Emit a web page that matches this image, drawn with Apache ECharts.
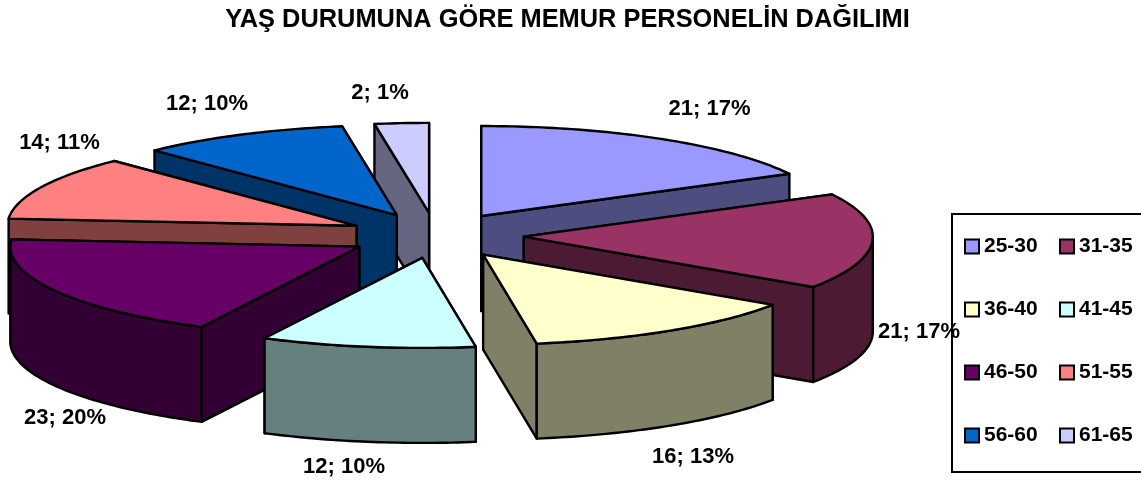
<!DOCTYPE html>
<html>
<head>
<meta charset="utf-8">
<style>
html, body { margin: 0; padding: 0; background: #fff; }
#chart { width: 1141px; height: 481px; }
</style>
<script src="https://cdn.jsdelivr.net/npm/echarts@6/dist/echarts.min.js"></script>
</head>
<body>
<div id="chart"></div>
<script>
// chart data
var categories = ["25-30", "31-35", "36-40", "41-45", "46-50", "51-55", "56-60", "61-65"];
var counts = [21, 21, 16, 12, 23, 14, 12, 2];
var percents = [17, 17, 13, 10, 20, 11, 10, 1];
// slice sizes (labels are rounded, the drawn slices are not)
var shares = [17.2, 17.2, 13.1, 9.9, 18.8, 11.5, 9.7, 2.5];
var colors = ["#9999FF", "#993366", "#FFFFCC", "#CCFFFF", "#660066", "#FF8080", "#0066CC", "#CCCCFF"];
var titleText = "YAŞ DURUMUNA GÖRE MEMUR PERSONELİN DAĞILIMI";

// pie projection
var CX = 436, CY = 235.5, RX = 349, RY = 90, DEPTH = 95, EXPLODE = 0.252;
var labelCenters = [[709.5, 109], [919, 332], [693, 457], [344, 467], [65, 418], [59.5, 143], [207, 104], [380, 93]];
var FONT = "Liberation Sans";
var EDGE = 2.4;

var total = shares.reduce(function (a, b) { return a + b; }, 0);
var slices = [];
var acc = 0;
for (var i = 0; i < shares.length; i++) {
    var a0 = acc / total * 360;
    acc += shares[i];
    var a1 = acc / total * 360;
    var mid = (a0 + a1) / 2 * Math.PI / 180;
    slices.push({
        a0: a0, a1: a1,
        x: CX + EXPLODE * RX * Math.sin(mid),
        y: CY - EXPLODE * RY * Math.cos(mid)
    });
}

function rimPoint(s, deg, drop) {
    var r = deg * Math.PI / 180;
    return [s.x + RX * Math.sin(r), s.y - RY * Math.cos(r) + drop];
}

function arcPoints(s, from, to, drop) {
    var pts = [];
    var steps = Math.max(2, Math.ceil(Math.abs(to - from)));
    for (var k = 0; k <= steps; k++) {
        pts.push(rimPoint(s, from + (to - from) * k / steps, drop));
    }
    return pts;
}

function face(points, fill) {
    return {
        type: "polygon",
        shape: { points: points },
        style: { fill: fill, stroke: "#000", lineWidth: EDGE, lineJoin: "round" }
    };
}

function cutFace(s, deg, fill) {
    return face([[s.x, s.y], rimPoint(s, deg, 0), rimPoint(s, deg, DEPTH), [s.x, s.y + DEPTH]], fill);
}

// side faces are the slice colour at half brightness
function halfColor(c) {
    var p = echarts.color.parse(c);
    return "rgb(" + Math.round(p[0] / 2) + "," + Math.round(p[1] / 2) + "," + Math.round(p[2] / 2) + ")";
}

function renderSlice(idx) {
    return function () {
        var s = slices[idx];
        var side = halfColor(colors[idx]);
        // the cut face turned away from the viewer goes first
        var children = (s.a0 + s.a1) / 2 < 180
            ? [cutFace(s, s.a0, side), cutFace(s, s.a1, side)]
            : [cutFace(s, s.a1, side), cutFace(s, s.a0, side)];
        // outer wall, only the part of the rim facing the viewer
        var from = Math.max(s.a0, 90), to = Math.min(s.a1, 270);
        if (to > from) {
            children.push(face(arcPoints(s, from, to, 0).concat(arcPoints(s, to, from, DEPTH)), side));
        }
        children.push(face([[s.x, s.y]].concat(arcPoints(s, s.a0, s.a1, 0)), colors[idx]));
        return { type: "group", children: children };
    };
}

function renderLabel(param) {
    var i = param.dataIndex;
    return {
        type: "text",
        style: {
            text: counts[i] + "; " + percents[i] + "%",
            x: labelCenters[i][0], y: labelCenters[i][1],
            align: "center", verticalAlign: "middle",
            font: "bold 22px '" + FONT + "'", fill: "#000"
        }
    };
}

// back slices first so the nearer ones cover them
var order = slices.map(function (s, i) { return i; }).sort(function (a, b) {
    return slices[a].y - slices[b].y;
});

var series = order.map(function (idx, rank) {
    return {
        type: "custom",
        name: categories[idx],
        coordinateSystem: "none",
        silent: true,
        z: 2 + rank,
        itemStyle: { color: colors[idx] },
        data: [[counts[idx]]],
        renderItem: renderSlice(idx)
    };
});
series.push({
    type: "custom",
    coordinateSystem: "none",
    silent: true,
    z: 40,
    data: counts.map(function (c) { return [c]; }),
    renderItem: renderLabel
});

function legendColumn(names, left) {
    return {
        data: names,
        orient: "vertical",
        left: left,
        top: 236,
        icon: "rect",
        itemWidth: 14,
        itemHeight: 14,
        itemGap: 42,
        selectedMode: false,
        padding: 0,
        itemStyle: { borderColor: "#000", borderWidth: 2 },
        textStyle: { fontFamily: FONT, fontWeight: "bold", fontSize: 21, color: "#000" }
    };
}

var chart = echarts.init(document.getElementById("chart"), null, { renderer: "canvas" });
chart.setOption({
    animation: false,
    backgroundColor: "#fff",
    title: {
        text: titleText,
        left: 567.5,
        textAlign: "center",
        top: 7,
        padding: 0,
        textStyle: { fontFamily: FONT, fontWeight: "bold", fontSize: 25.4, color: "#000" }
    },
    legend: [
        legendColumn([categories[0], categories[2], categories[4], categories[6]], 964),
        legendColumn([categories[1], categories[3], categories[5], categories[7]], 1059)
    ],
    graphic: [{
        type: "rect",
        z: 1,
        shape: { x: 952, y: 214, width: 200, height: 258 },
        style: { fill: "#fff", stroke: "#000", lineWidth: 2 }
    }],
    series: series
});
</script>
</body>
</html>
